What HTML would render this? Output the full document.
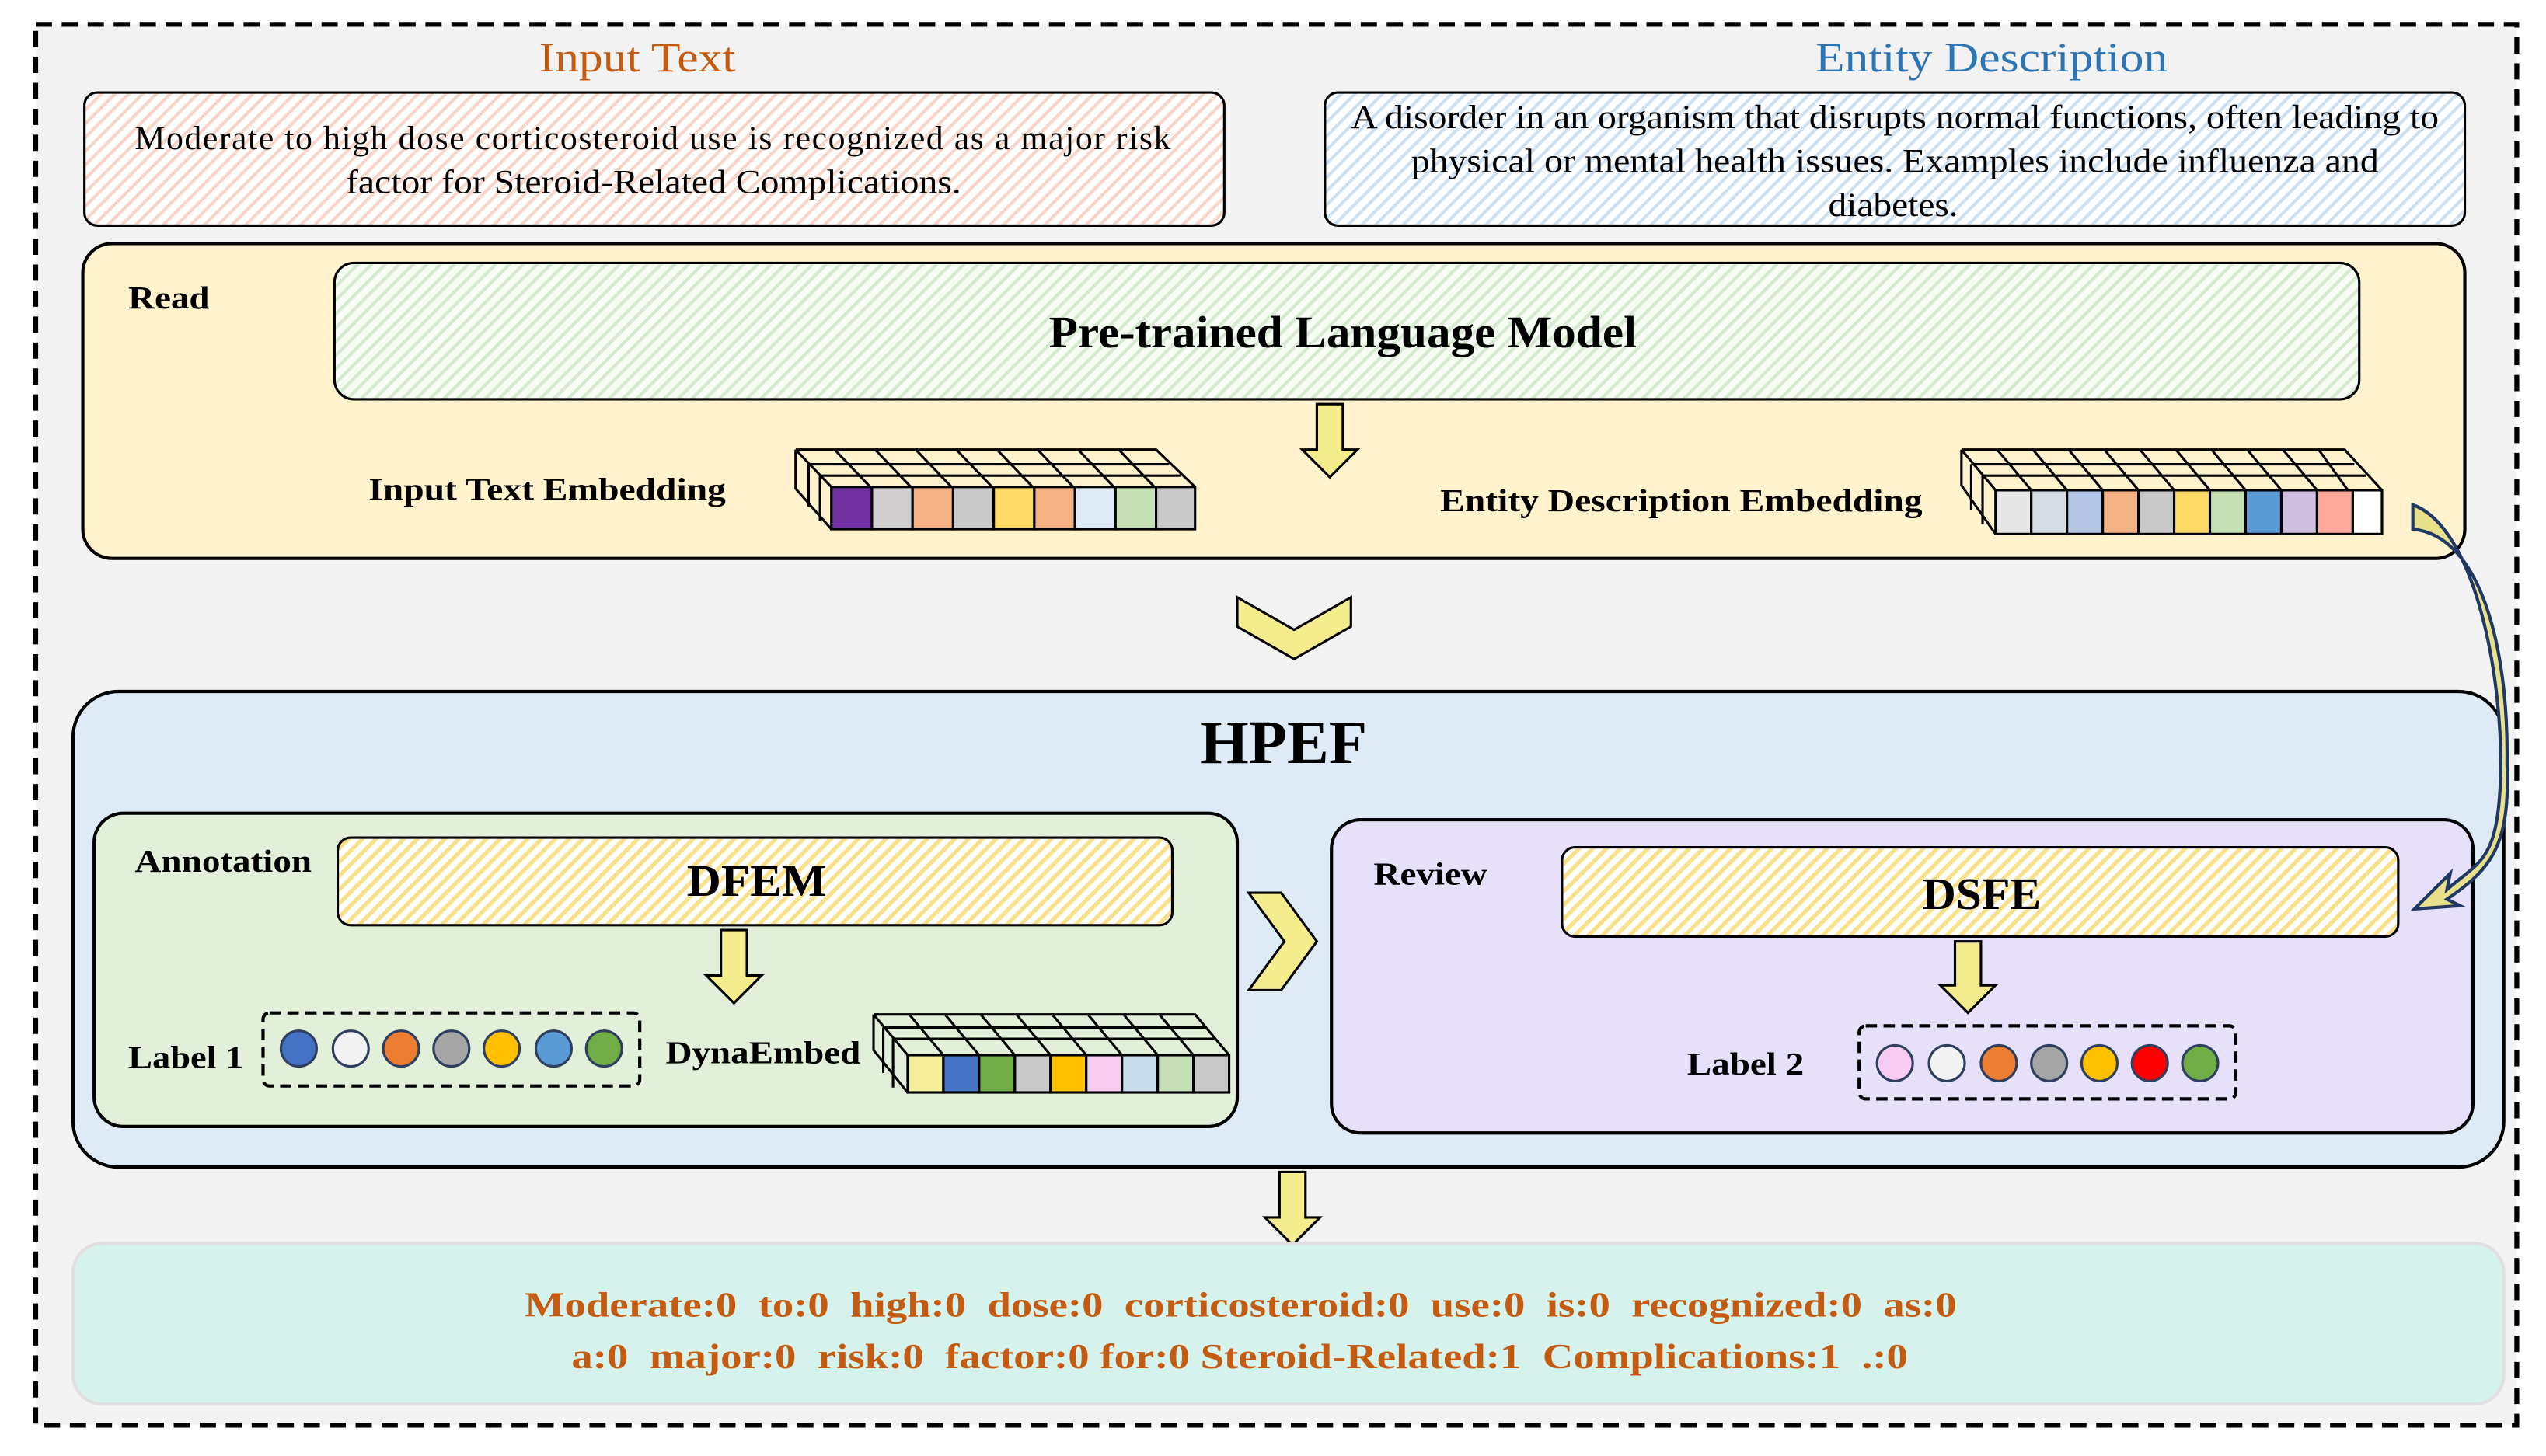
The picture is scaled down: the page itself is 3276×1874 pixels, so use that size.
<!DOCTYPE html>
<html><head><meta charset="utf-8"><style>html,body{margin:0;padding:0;background:#fff}svg{display:block}</style></head><body>
<svg width="3276" height="1874" viewBox="0 0 1568 897" preserveAspectRatio="none" xmlns="http://www.w3.org/2000/svg" font-family="'Liberation Serif',serif">
<defs>
<pattern id="hp" width="6" height="6" patternUnits="userSpaceOnUse" patternTransform="rotate(45)"><rect width="6" height="6" fill="#fff"/><rect width="2" height="6" fill="#F8D5C8"/></pattern>
<pattern id="hb" width="6" height="6" patternUnits="userSpaceOnUse" patternTransform="rotate(45)"><rect width="6" height="6" fill="#fff"/><rect width="2" height="6" fill="#CFE0F0"/></pattern>
<pattern id="hg" width="6" height="6" patternUnits="userSpaceOnUse" patternTransform="rotate(45)"><rect width="6" height="6" fill="#F6FBF4"/><rect width="2" height="6" fill="#D5E8D0"/></pattern>
<pattern id="hy" width="6" height="6" patternUnits="userSpaceOnUse" patternTransform="rotate(45)"><rect width="6" height="6" fill="#fff"/><rect width="2.5" height="6" fill="#FBE08A"/></pattern>
</defs>
<rect x="22" y="15" width="1528" height="863" fill="#F2F2F2" stroke="#000" stroke-width="3" stroke-dasharray="10,6"/>
<text x="332" y="44" font-size="26" fill="#C55A11" textLength="121" lengthAdjust="spacingAndGlyphs">Input Text</text>
<text x="1118" y="44" font-size="26" fill="#2E75B6" textLength="217" lengthAdjust="spacingAndGlyphs">Entity Description</text>
<rect x="52" y="57" width="702" height="82" rx="8" fill="url(#hp)" stroke="#000" stroke-width="1.5"/>
<text font-size="21" lengthAdjust="spacingAndGlyphs"><tspan x="83" y="92" textLength="638">Moderate to high dose corticosteroid use is recognized as a major risk</tspan></text>
<text font-size="21"><tspan x="213" y="119" textLength="379" lengthAdjust="spacingAndGlyphs">factor for Steroid-Related Complications.</tspan></text>
<rect x="816" y="57" width="702" height="82" rx="8" fill="url(#hb)" stroke="#000" stroke-width="1.5"/>
<text font-size="21" x="832" y="79" textLength="670" lengthAdjust="spacingAndGlyphs">A disorder in an organism that disrupts normal functions, often leading to</text>
<text font-size="21" x="869" y="106" textLength="596" lengthAdjust="spacingAndGlyphs">physical or mental health issues. Examples include influenza and</text>
<text font-size="21" x="1126" y="133" textLength="80" lengthAdjust="spacingAndGlyphs">diabetes.</text>
<rect x="51" y="150" width="1467" height="194" rx="18" fill="#FFF2CC" stroke="#000" stroke-width="2"/>
<text x="79" y="190" font-size="20" font-weight="bold" textLength="50" lengthAdjust="spacingAndGlyphs">Read</text>
<rect x="206" y="162" width="1247" height="84" rx="12" fill="url(#hg)" stroke="#000" stroke-width="1.5"/>
<text x="646" y="214" font-size="28" font-weight="bold" textLength="362" lengthAdjust="spacingAndGlyphs">Pre-trained Language Model</text>
<g fill="#F5EC8E" stroke="#000" stroke-width="1.5">
<path d="M811 249h16v28h9l-17 17-17-17h9z"/>
<path d="M444 573h16v28h9l-17 17-17-17h9z"/>
<path d="M788 722h16v28h9l-17 17-17-17h9z"/>
<path d="M762 368l35 20 35-20v18l-35 20-35-20z"/>
</g>
<text x="227" y="308" font-size="20" font-weight="bold" textLength="220" lengthAdjust="spacingAndGlyphs">Input Text Embedding</text>
<text x="887" y="315" font-size="20" font-weight="bold" textLength="297" lengthAdjust="spacingAndGlyphs">Entity Description Embedding</text>
<g stroke="#000" stroke-width="1.5" fill="none">
<path d="M490 277h222l24 23M498 286h222M505 293h222M490 277v24l22 25M498 286v26M505 293v28M490 277l22 23"/>
<path d="M514 277l22 23M539 277l22 23M564 277l22 23M589 277l22 23M614 277l22 23M639 277l22 23M664 277l22 23M689 277l22 23"/>
</g>
<g stroke="#000" stroke-width="1.5">
<rect x="512" y="300" width="25" height="26" fill="#7030A0"/><rect x="537" y="300" width="25" height="26" fill="#D0CECE"/><rect x="562" y="300" width="25" height="26" fill="#F4B183"/><rect x="587" y="300" width="25" height="26" fill="#C9C9C9"/><rect x="612" y="300" width="25" height="26" fill="#FFD966"/><rect x="637" y="300" width="25" height="26" fill="#F4B183"/><rect x="662" y="300" width="25" height="26" fill="#DEEBF7"/><rect x="687" y="300" width="25" height="26" fill="#C5E0B4"/><rect x="712" y="300" width="24" height="26" fill="#C9C9C9"/>
</g>
<g stroke="#000" stroke-width="1.5" fill="none">
<path d="M1208 277h236l23 25M1214 286h236M1221 293h236M1208 277v22l21 30M1214 286v28M1221 293v30M1208 277l21 25M1230 277l21 25M1252 277l21 25M1274 277l21 25M1296 277l21 25M1318 277l21 25M1340 277l21 25M1362 277l21 25M1384 277l21 25M1406 277l21 25M1428 277l18 25"/>
</g>
<g stroke="#000" stroke-width="1.5">
<rect x="1229" y="302" width="22" height="27" fill="#E7E6E6"/><rect x="1251" y="302" width="22" height="27" fill="#D6DCE4"/><rect x="1273" y="302" width="22" height="27" fill="#B4C7E7"/><rect x="1295" y="302" width="22" height="27" fill="#F4B183"/><rect x="1317" y="302" width="22" height="27" fill="#C9C9C9"/><rect x="1339" y="302" width="22" height="27" fill="#FFD966"/><rect x="1361" y="302" width="22" height="27" fill="#C5E0B4"/><rect x="1383" y="302" width="22" height="27" fill="#5B9BD5"/><rect x="1405" y="302" width="22" height="27" fill="#D1BFE0"/><rect x="1427" y="302" width="22" height="27" fill="#FFA99A"/><rect x="1449" y="302" width="18" height="27" fill="#fff"/>
</g>
<rect x="45" y="426" width="1497" height="293" rx="28" fill="#DEEBF7" stroke="#000" stroke-width="2"/>
<text x="739" y="470" font-size="38" font-weight="bold" textLength="103" lengthAdjust="spacingAndGlyphs">HPEF</text>
<rect x="58" y="501" width="704" height="193" rx="18" fill="#E2F0D9" stroke="#000" stroke-width="2"/>
<text x="83" y="537" font-size="20" font-weight="bold" textLength="109" lengthAdjust="spacingAndGlyphs">Annotation</text>
<rect x="208" y="516" width="514" height="54" rx="8" fill="url(#hy)" stroke="#000" stroke-width="1.5"/>
<text x="423" y="552" font-size="28" font-weight="bold" textLength="86" lengthAdjust="spacingAndGlyphs">DFEM</text>
<g fill="#F5EC8E" stroke="#000" stroke-width="1.5"><path d="M444 573h16v28h9l-17 17-17-17h9z"/><path d="M769 550l20 0 22 30-22 30-20 0 22-30z"/></g>
<text x="79" y="658" font-size="20" font-weight="bold" textLength="71" lengthAdjust="spacingAndGlyphs">Label 1</text>
<rect x="162" y="624" width="232" height="45" rx="4" fill="none" stroke="#000" stroke-width="2" stroke-dasharray="7,4"/>
<g stroke="#2F3F5F" stroke-width="1.5"><circle cx="184" cy="646" r="11" fill="#4472C4"/><circle cx="216" cy="646" r="11" fill="#F2F2F2"/><circle cx="247" cy="646" r="11" fill="#ED7D31"/><circle cx="278" cy="646" r="11" fill="#A5A5A5"/><circle cx="309" cy="646" r="11" fill="#FFC000"/><circle cx="341" cy="646" r="11" fill="#5B9BD5"/><circle cx="372" cy="646" r="11" fill="#70AD47"/></g>
<text x="410" y="655" font-size="20" font-weight="bold" textLength="120" lengthAdjust="spacingAndGlyphs">DynaEmbed</text>
<g stroke="#000" stroke-width="1.5" fill="none">
<path d="M538 625h198l21 25M544 633h198M550 640h198M538 625v22l21 26M544 633v28M550 640v30M538 625l21 25M560 625l21 25M582 625l21 25M604 625l21 25M626 625l21 25M648 625l21 25M670 625l21 25M692 625l21 25M714 625l21 25"/>
</g>
<g stroke="#000" stroke-width="1.5">
<rect x="559" y="650" width="22" height="23" fill="#F7EE9A"/><rect x="581" y="650" width="22" height="23" fill="#4472C4"/><rect x="603" y="650" width="22" height="23" fill="#70AD47"/><rect x="625" y="650" width="22" height="23" fill="#C9C9C9"/><rect x="647" y="650" width="22" height="23" fill="#FFC000"/><rect x="669" y="650" width="22" height="23" fill="#F8CBF2"/><rect x="691" y="650" width="22" height="23" fill="#C9DDEF"/><rect x="713" y="650" width="22" height="23" fill="#C5E0B4"/><rect x="735" y="650" width="22" height="23" fill="#C9C9C9"/>
</g>
<rect x="820" y="505" width="703" height="193" rx="18" fill="#E6E0FA" stroke="#000" stroke-width="2"/>
<text x="846" y="545" font-size="20" font-weight="bold" textLength="70" lengthAdjust="spacingAndGlyphs">Review</text>
<rect x="962" y="522" width="515" height="55" rx="8" fill="url(#hy)" stroke="#000" stroke-width="1.5"/>
<text x="1184" y="560" font-size="28" font-weight="bold" textLength="73" lengthAdjust="spacingAndGlyphs">DSFE</text>
<path d="M1204 580h16v27h9l-17 17-17-17h9z" fill="#F5EC8E" stroke="#000" stroke-width="1.5"/>
<text x="1039" y="662" font-size="20" font-weight="bold" textLength="72" lengthAdjust="spacingAndGlyphs">Label 2</text>
<rect x="1145" y="632" width="232" height="45" rx="4" fill="none" stroke="#000" stroke-width="2" stroke-dasharray="7,4"/>
<g stroke="#2F3F5F" stroke-width="1.5"><circle cx="1167" cy="655" r="11" fill="#F8CBF2"/><circle cx="1199" cy="655" r="11" fill="#F2F2F2"/><circle cx="1231" cy="655" r="11" fill="#ED7D31"/><circle cx="1262" cy="655" r="11" fill="#A5A5A5"/><circle cx="1293" cy="655" r="11" fill="#FFC000"/><circle cx="1324" cy="655" r="11" fill="#FF0000"/><circle cx="1355" cy="655" r="11" fill="#70AD47"/></g>
<path d="M1486 311 C1525 325 1542 420 1540 480 C1538 530 1528 530 1507 548 L1509 538 L1487 560 L1515 558 L1507 554 C1535 535 1546 520 1544 470 C1545 400 1528 330 1486 326 Z" fill="#E8E08A" stroke="#1F3864" stroke-width="2"/>
<rect x="45" y="766" width="1497" height="99" rx="18" fill="#D5F2EC" stroke="#E0E0E0" stroke-width="2"/>
<text x="323" y="811" font-size="22" font-weight="bold" fill="#C55A11" textLength="882" lengthAdjust="spacingAndGlyphs" xml:space="preserve" style="white-space:pre">Moderate:0  to:0  high:0  dose:0  corticosteroid:0  use:0  is:0  recognized:0  as:0</text>
<text x="352" y="843" font-size="22" font-weight="bold" fill="#C55A11" textLength="823" lengthAdjust="spacingAndGlyphs" xml:space="preserve" style="white-space:pre">a:0  major:0  risk:0  factor:0 for:0 Steroid-Related:1  Complications:1  .:0</text>
</svg>
</body></html>
